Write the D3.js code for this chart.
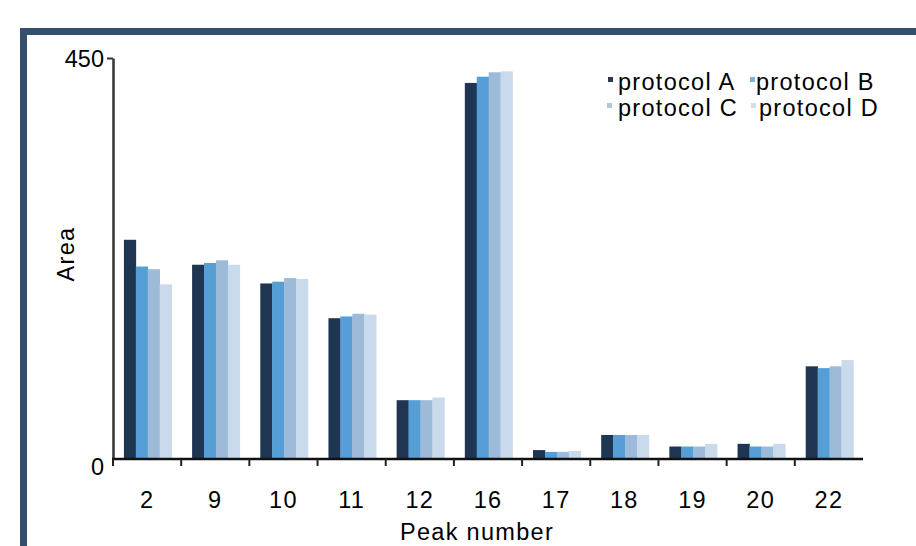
<!DOCTYPE html>
<html>
<head>
<meta charset="utf-8">
<script src="https://cdn.jsdelivr.net/npm/d3@7"></script>
<style>
  html, body { margin: 0; padding: 0; background: #ffffff; }
  svg { display: block; }
  text { font-family: "Liberation Sans", Arial, sans-serif; fill: #000; }
</style>
</head>
<body>
<svg id="chart" width="916" height="546"></svg>
<script>
const categories = ["2", "9", "10", "11", "12", "16", "17", "18", "19", "20", "22"];
const seriesNames = ["protocol A", "protocol B", "protocol C", "protocol D"];
const protocolA = [246, 218, 197, 158, 66, 422, 10, 27, 14, 17, 104];
const protocolB = [216, 220, 199, 160, 66, 429, 8, 27, 14, 14, 102];
const protocolC = [213, 223, 203, 163, 66, 434, 8, 27, 14, 14, 104];
const protocolD = [196, 218, 202, 162, 69, 435, 9, 27, 17, 17, 111];
const yTickValues = [0, 450];
const xTitle = "Peak number";
const yTitle = "Area";

const seriesValues = [protocolA, protocolB, protocolC, protocolD];
const barColors = ["#1f3652", "#559fd6", "#9dbad9", "#c9daed"];
const legendColors = ["#2a3a4e", "#7fb0d9", "#b4c6da", "#d3dde9"];

const svg = d3.select("#chart");
const plot = { left: 113, right: 863, top: 58, bottom: 459 };
const FS = 23.5, LS = "1.3px";

// outer frame
svg.append("rect")
  .attr("x", 23.5).attr("y", 31.5)
  .attr("width", 1000).attr("height", 1000)
  .attr("fill", "#ffffff")
  .attr("stroke", "#34506c").attr("stroke-width", 7);

const x = d3.scaleBand().domain(categories).range([plot.left, plot.right]).padding(0);
const xi = d3.scaleBand().domain(seriesNames)
  .range([x.bandwidth() * 0.16, x.bandwidth() * 0.86]).padding(0);
const y = d3.scaleLinear().domain([0, 450]).range([plot.bottom, plot.top]);

// bars
const groups = svg.append("g").selectAll("g")
  .data(categories)
  .join("g")
  .attr("transform", d => `translate(${x(d)},0)`);

groups.selectAll("rect")
  .data((c, i) => seriesNames.map((s, k) => ({ s, k, v: seriesValues[k][i] })))
  .join("rect")
  .attr("x", d => xi(d.s))
  .attr("width", xi.bandwidth() + 0.3)
  .attr("y", d => y(d.v))
  .attr("height", d => y(0) - y(d.v))
  .attr("fill", d => barColors[d.k]);

// y axis
const yAxis = svg.append("g")
  .attr("transform", `translate(${plot.left},0)`)
  .call(d3.axisLeft(y).tickValues(yTickValues).tickSize(6).tickSizeOuter(0).tickPadding(3));
yAxis.select(".domain").attr("stroke", "#333").attr("stroke-width", 2.5);
yAxis.selectAll(".tick line").attr("stroke", "#333").attr("stroke-width", 2);
yAxis.selectAll(".tick line").filter(d => d === 0).remove();
yAxis.selectAll(".tick text")
  .style("font-family", '"Liberation Sans", Arial, sans-serif')
  .style("font-size", FS + "px")
  .style("letter-spacing", "0px")
  .attr("fill", "#000")
  .attr("dy", d => d === 0 ? "0.68em" : "0.34em");

// x axis labels
const xAxis = svg.append("g")
  .attr("transform", `translate(0,${plot.bottom})`)
  .call(d3.axisBottom(x).tickSize(0).tickPadding(32));
xAxis.select(".domain").remove();
xAxis.selectAll(".tick text")
  .style("font-family", '"Liberation Sans", Arial, sans-serif')
  .style("font-size", FS + "px")
  .style("letter-spacing", LS)
  .attr("fill", "#000");

// x axis line and boundary ticks
svg.append("line")
  .attr("x1", plot.left - 1).attr("x2", plot.right)
  .attr("y1", y(0)).attr("y2", y(0))
  .attr("stroke", "#111").attr("stroke-width", 2.5);
svg.append("g").selectAll("line")
  .data(categories)
  .join("line")
  .attr("x1", d => x(d)).attr("x2", d => x(d))
  .attr("y1", y(0)).attr("y2", y(0) + 7)
  .attr("stroke", "#222").attr("stroke-width", 2);

// titles
svg.append("text")
  .attr("x", 477).attr("y", 540)
  .attr("text-anchor", "middle")
  .style("font-size", FS + "px")
  .style("letter-spacing", LS)
  .text(xTitle);

svg.append("text")
  .attr("transform", "translate(74,254) rotate(-90)")
  .attr("text-anchor", "middle")
  .style("font-size", FS + "px")
  .style("letter-spacing", LS)
  .text(yTitle);

// legend
const legendPos = [
  { mx: 608, tx: 618, y: 90 },
  { mx: 750, tx: 756, y: 90 },
  { mx: 607, tx: 618, y: 116 },
  { mx: 751, tx: 759, y: 116 }
];
const legend = svg.append("g").selectAll("g")
  .data(seriesNames)
  .join("g");
legend.append("rect")
  .attr("x", (d, i) => legendPos[i].mx)
  .attr("y", (d, i) => legendPos[i].y - 13)
  .attr("width", 5).attr("height", 5)
  .attr("fill", (d, i) => legendColors[i]);
legend.append("text")
  .attr("x", (d, i) => legendPos[i].tx)
  .attr("y", (d, i) => legendPos[i].y)
  .style("font-size", FS + "px")
  .style("letter-spacing", LS)
  .text(d => d);
</script>
</body>
</html>
